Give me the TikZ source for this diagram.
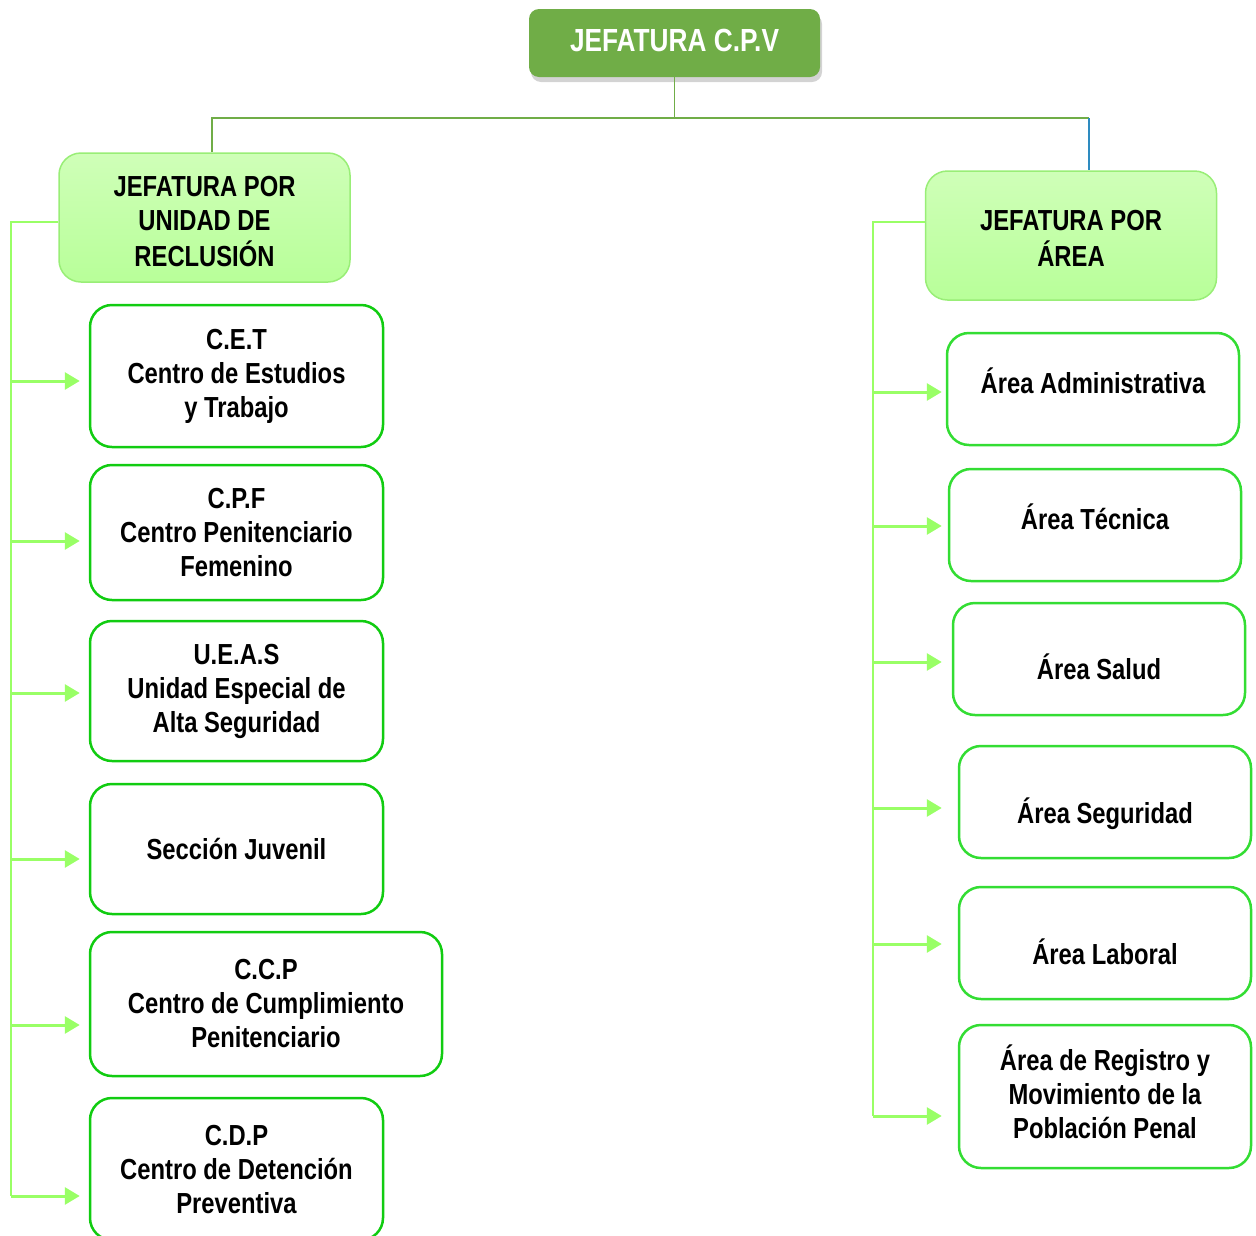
\documentclass[tikz,border=0pt]{standalone}
\usepackage{fontspec}
\setmainfont{Liberation Sans}[FakeStretch=0.82]
\usepackage{tikz}
\usetikzlibrary{arrows.meta,shadows}

\definecolor{chiefgreen}{HTML}{70AD47}
\definecolor{headtop}{HTML}{CFFFB8}
\definecolor{headbot}{HTML}{B8FF99}
\definecolor{headline}{HTML}{99EE77}
\definecolor{unitline}{HTML}{11CC11}
\definecolor{arealine}{HTML}{33DD33}
\definecolor{railgreen}{HTML}{99FF66}
\definecolor{forkblue}{HTML}{2E8BC0}

% move a label up or down inside its box, keeping the box size
\newcommand{\nudge}[2]{\raisebox{#1}[\height][\depth]{#2}}
\newcommand{\lines}[1]{\begin{tabular}{@{}c@{}}#1\end{tabular}}

\tikzset{
  chief/.style={fill=chiefgreen, rounded corners=10pt, minimum width=291pt, minimum height=68pt,
    text=white, font=\bfseries\fontsize{32}{36}\selectfont,
    drop shadow={opacity=0.35, shadow xshift=2pt, shadow yshift=-5pt}},
  head/.style={draw=headline, line width=1.5pt, rounded corners=22pt, top color=headtop, bottom color=headbot,
    align=center, minimum width=291pt, minimum height=129pt, font=\bfseries\fontsize{29}{34}\selectfont},
  unit/.style={draw=unitline, line width=2.5pt, rounded corners=22pt, fill=white, align=center,
    minimum width=293pt, font=\bfseries\fontsize{29}{34}\selectfont},
  areabox/.style={unit, draw=arealine, minimum width=292pt, minimum height=112pt},
  trunk/.style={draw=chiefgreen, line width=1.5pt},
  rail/.style={draw=railgreen, line width=1.5pt},
  feed/.style={draw=railgreen, line width=3pt, -{Triangle[length=15pt,width=17pt,fill=railgreen]}},
}

\begin{document}
\begin{tikzpicture}[x=1pt,y=1pt,yscale=-1]
\useasboundingbox (0,0) rectangle (1256,1235);

% top
\node[chief] (chief) at (674.5,43) {\nudge{3pt}{JEFATURA C.P.V}};

% heads
\node[head] (unidad) at (204.5,217.5) {\nudge{-7pt}{\lines{JEFATURA POR\\UNIDAD DE\\RECLUSIÓN}}};
\node[head] (area) at (1071,235.5) {\nudge{-6pt}{\lines{JEFATURA POR\\ÁREA}}};

% left column
\node[unit, minimum height=142pt] (cet) at (236.5,376) {C.E.T\\Centro de Estudios\\y Trabajo};
\node[unit, minimum height=135pt] (cpf) at (236.5,532.5) {C.P.F\\Centro Penitenciario\\Femenino};
\node[unit, minimum height=140pt] (ueas) at (236.5,691) {U.E.A.S\\Unidad Especial de\\Alta Seguridad};
\node[unit, minimum height=130pt] (juvenil) at (236.5,849) {Sección Juvenil};
\node[unit, minimum height=144pt, minimum width=352pt] (ccp) at (266,1004) {C.C.P\\Centro de Cumplimiento\\Penitenciario};
\node[unit, minimum height=142pt] (cdp) at (236.5,1169) {C.D.P\\Centro de Detención\\Preventiva};

% right column
\node[areabox] (admin) at (1093,389) {\nudge{8pt}{Área Administrativa}};
\node[areabox] (tecnica) at (1095,525) {\nudge{8pt}{Área Técnica}};
\node[areabox] (salud) at (1099,659) {\nudge{-8pt}{Área Salud}};
\node[areabox] (seguridad) at (1105,802) {\nudge{-12pt}{Área Seguridad}};
\node[areabox] (laboral) at (1105,943) {\nudge{-9pt}{Área Laboral}};
\node[areabox, minimum height=143pt] (registro) at (1105,1096.5) {\lines{Área de Registro y\\Movimiento de la\\Población Penal}};

% fork under the chief
\coordinate (fork) at (chief.south |- 0,118);
\coordinate (ljoin) at (212,118);
\coordinate (rjoin) at (1089,118);
\draw[trunk] (chief.south) -- (fork);
\draw[trunk] (ljoin |- unidad.north) -- (ljoin) -- (rjoin);
\draw[draw=forkblue, line width=1.5pt] (rjoin) -- (rjoin |- area.north);

% left rail
\coordinate (lrail) at (11,222);
\draw[rail] (unidad.west |- lrail) -- (lrail) -- (lrail |- 0,1196);
\foreach \n/\y in {cet/381, cpf/541, ueas/693, juvenil/859, ccp/1025, cdp/1196}
  \draw[feed, shorten >=9pt] (lrail |- 0,\y) -- (\n.west |- 0,\y);

% right rail
\coordinate (rrail) at (873,222);
\draw[rail] (area.west |- rrail) -- (rrail) -- (rrail |- 0,1116);
\foreach \n/\y/\s in {admin/392/4, tecnica/526/6, salud/662/10, seguridad/808/16, laboral/944/16, registro/1116/16}
  \draw[feed, shorten >=\s pt] (rrail |- 0,\y) -- (\n.west |- 0,\y);

\end{tikzpicture}
\end{document}
